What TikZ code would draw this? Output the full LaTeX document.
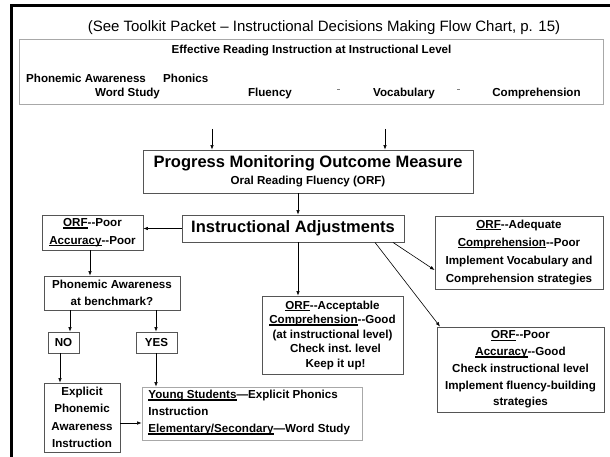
\documentclass[tikz,border=0pt]{standalone}
\usepackage{fontspec}
\setmainfont{Liberation Sans}
\usetikzlibrary{arrows.meta}
\newsavebox{\ulbox}
\newcommand{\twohy}{-{}-}
\newcommand{\ulw}[1]{\sbox{\ulbox}{#1}\rlap{\rule[-2pt]{\wd\ulbox}{1.1pt}}\usebox{\ulbox}}
\definecolor{boxline}{HTML}{555555}
\definecolor{lightline}{HTML}{A8A8A8}
\begin{document}
\begin{tikzpicture}[x=1pt,y=-1pt,
  box/.style={draw=boxline, line width=0.9pt, inner sep=0pt, align=center,
    font=\bfseries\fontsize{11.6}{17.5}\selectfont},
  lightbox/.style={draw=lightline, line width=0.8pt, inner sep=0pt},
  lbl/.style={inner sep=0pt, font=\bfseries\fontsize{11.6}{14}\selectfont},
  big/.style={font=\bfseries\fontsize{16.5}{18}\selectfont},
  arr/.style={-{Latex[length=4.5pt,width=3.5pt]}, line width=0.6pt}]
\useasboundingbox (0,0) rectangle (610,457);

% outer frame (left and top edges)
\draw[line width=3pt, line join=miter] (11,457) -- (11,6) -- (610,6);

% reference line
\node[inner sep=0pt, anchor=base, font=\fontsize{15}{17}\selectfont] (ref) at (324,32)
  {(See Toolkit Packet – Instructional Decisions Making Flow Chart, p. 15)};

% instruction box
\node[lightbox, minimum width=584pt, minimum height=65pt] (erbox) at (311,71.5) {};
\node[lbl, anchor=base] (eri) at (311.5,54) {Effective Reading Instruction at Instructional Level};
\node[lbl, anchor=base west] (pa1) at (26,82.5) {Phonemic Awareness};
\node[lbl, anchor=base west] (ph1) at (163,82.5) {Phonics};
\node[lbl, anchor=base] (ws1) at (127.5,96.5) {Word Study};
\node[lbl, anchor=base] (fl1) at (270,96.5) {Fluency};
\node[lbl, anchor=base] (vo1) at (404,96.5) {Vocabulary};
\node[lbl, anchor=base] (co1) at (536.5,96.5) {Comprehension};
\draw[gray, line width=0.8pt] (337,89) -- (340,89);
\draw[gray, line width=0.8pt] (457,89) -- (460,89);

% flow boxes
\node[box, minimum width=330pt, minimum height=43pt] (pmom) at (308,171.5)
  {{\fontsize{16.5}{18}\selectfont Progress Monitoring Outcome Measure}\\Oral Reading Fluency (ORF)};
\node[box, big, minimum width=222pt, minimum height=27pt] (adj) at (293,228.5)
  {Instructional Adjustments};
\node[box, minimum width=101pt, minimum height=35pt] (pp) at (92.5,232.5)
  {\ulw{ORF}\twohy Poor\\\ulw{Accuracy}\twohy Poor};
\node[box, minimum width=136pt, minimum height=34pt] (pa) at (112,293)
  {Phonemic Awareness\\at benchmark?};
\node[box, minimum width=31pt, minimum height=21pt] (no) at (63.5,342.5) {NO};
\node[box, minimum width=41pt, minimum height=21pt] (yes) at (156.5,342.5) {YES};
\node[box, minimum width=76pt, minimum height=69pt] (expl) at (82,417.5)
  {Explicit\\Phonemic\\Awareness\\Instruction};
\node[lightbox, minimum width=220pt, minimum height=53pt] (young) at (252,413.5) {};
\node[box, draw=none, align=left, anchor=west, font=\bfseries\fontsize{11.6}{17}\selectfont] (youngtxt) at (148,412.5)
  {\ulw{Young Students}—Explicit Phonics\\Instruction\\\ulw{Elementary/Secondary}—Word Study};
\node[box, font=\bfseries\fontsize{11.6}{14.5}\selectfont, minimum width=141pt, minimum height=78pt] (acc) at (332.5,335)
  {\ulw{ORF}\twohy Acceptable\\\ulw{Comprehension}\twohy Good\\(at instructional level)\\\hspace*{6pt}Check inst.\ level\\\hspace*{6pt}Keep it up!};
\node[box, font=\bfseries\fontsize{11.6}{18}\selectfont, minimum width=168pt, minimum height=73pt] (adeq) at (519,252.5)
  {\ulw{ORF}\twohy Adequate\\\ulw{Comprehension}\twohy Poor\\Implement Vocabulary and\\Comprehension strategies};
\node[box, font=\bfseries\fontsize{11.6}{16.8}\selectfont, minimum width=167pt, minimum height=85pt] (pg) at (520.5,369.5)
  {\ulw{ORF}\twohy Poor\\\ulw{Accuracy}\twohy Good\\Check instructional level\\Implement fluency-building\\strategies};

% connectors
\coordinate (s1) at (212,129);
\coordinate (s2) at (385,129);
\draw[arr] (s1) -- (s1 |- pmom.north);
\draw[arr] (s2) -- (s2 |- pmom.north);
\draw[arr] ([xshift=-10pt]pmom.south) -- ([xshift=5pt]adj.north);
\draw[arr] (adj.west) -- (pp.east |- adj.west);
\draw[arr] ([xshift=-2.5pt]pp.south) -- ([xshift=-22pt]pa.north);
\draw[arr] ([xshift=-42pt]pa.south) -- ([xshift=6.5pt]no.north);
\draw[arr] ([xshift=44pt]pa.south) -- ([xshift=-0.5pt]yes.north);
\draw[arr] ([xshift=-3.5pt]no.south) -- ([xshift=-22pt]expl.north);
\draw[arr] ([xshift=-0.5pt]yes.south) -- ([xshift=-96pt]young.north);
\draw[arr] ([yshift=-5.5pt]expl.east) -- ([yshift=-9.5pt]young.west);
\draw[arr] ([xshift=5pt]adj.south) -- ([xshift=-34.5pt]acc.north);
\draw[arr] ([xshift=100pt]adj.south) -- ([yshift=-17.5pt]adeq.west);
\draw[arr] ([xshift=82pt]adj.south) -- ([xshift=-80.5pt]pg.north);
\end{tikzpicture}
\end{document}
